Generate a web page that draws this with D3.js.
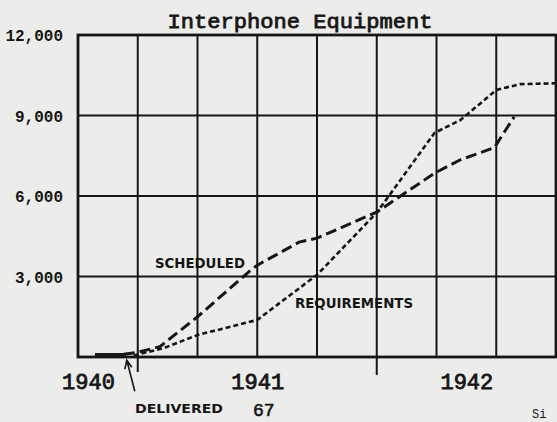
<!DOCTYPE html>
<html>
<head>
<meta charset="utf-8">
<script src="https://cdn.jsdelivr.net/npm/d3@7"></script>
<style>
  html, body { margin: 0; padding: 0; background: #ececea; }
  svg { display: block; }
</style>
</head>
<body>
<svg id="chart" width="557" height="422"></svg>
<script>
// Months counted from 1 October 1940; gridlines every quarter.
const quarterTicks = [0, 3, 6, 9, 12, 15, 18, 21, 24];
const valueTicks = [3000, 6000, 9000, 12000];
const valueTickLabels = ["3,000", "6,000", "9,000", "12,000"];
const yearLabels = ["1940", "1941", "1942"];
const yearLabelMonths = [0.5, 9, 19.5];
const yearBoundaryMonths = [3, 15];

// Cumulative units
const scheduledMonths = [2.3, 3, 4.1, 6, 8.7, 9, 11.1, 12, 15, 17.9, 19.2, 20.9, 21.9];
const scheduledValues = [100, 180, 380, 1500, 3250, 3420, 4280, 4430, 5400, 6850, 7350, 7800, 8950];

const requirementMonths = [2.8, 4.3, 6, 9, 9.8, 12, 15, 17.9, 19.2, 21, 22.2, 24];
const requirementValues = [60, 330, 820, 1380, 1830, 3060, 5380, 8350, 8830, 9950, 10170, 10200];

const deliveredMonths = [0.85, 2.4];
const deliveredValues = [67, 67];
const deliveredLabel = "67";

const svg = d3.select("#chart");
const ink = "#161616";
const mono = "'Liberation Mono', 'Courier New', monospace";
const stencil = "'DejaVu Sans Condensed', 'DejaVu Sans', sans-serif";

const x = d3.scaleLinear().domain([0, 24]).range([78, 556]);
const y = d3.scaleLinear().domain([0, 12000]).range([357, 35]);

// Grid
const grid = svg.append("g").attr("stroke", ink).attr("fill", "none");
grid.selectAll("line.v").data(quarterTicks.slice(1, -1)).join("line")
  .attr("x1", d => x(d)).attr("x2", d => x(d))
  .attr("y1", y(12000)).attr("y2", y(0))
  .attr("stroke-width", 2);
grid.selectAll("line.h").data(valueTicks.slice(0, -1)).join("line")
  .attr("x1", x(0)).attr("x2", x(24))
  .attr("y1", d => y(d)).attr("y2", d => y(d))
  .attr("stroke-width", 2);
grid.append("rect")
  .attr("x", x(0)).attr("y", y(12000))
  .attr("width", x(24) - x(0)).attr("height", y(0) - y(12000))
  .attr("stroke-width", 2.8);

// Year boundary ticks below the axis
grid.selectAll("line.yb").data(yearBoundaryMonths).join("line")
  .attr("x1", d => x(d)).attr("x2", d => x(d))
  .attr("y1", y(0)).attr("y2", (d, i) => y(0) + (i === 0 ? 15 : 18))
  .attr("stroke-width", 2);

// Value axis labels
const yAxis = d3.axisLeft(y).tickValues(valueTicks)
  .tickFormat((d, i) => valueTickLabels[i]).tickSize(0).tickPadding(15);
const yg = svg.append("g").attr("transform", `translate(${x(0)},0)`).call(yAxis);
yg.select(".domain").remove();
yg.selectAll("text")
  .attr("font-family", mono).attr("font-size", 16).attr("font-weight", "bold")
  .attr("fill", ink).attr("dy", "0.35em");

// Year labels
const xAxis = d3.axisBottom(x).tickValues(yearLabelMonths)
  .tickFormat((d, i) => yearLabels[i]).tickSize(0).tickPadding(16);
const xg = svg.append("g").attr("transform", `translate(0,${y(0)})`).call(xAxis);
xg.select(".domain").remove();
xg.selectAll("text")
  .attr("font-family", mono).attr("font-size", 22)
  .attr("fill", ink).attr("stroke", ink).attr("stroke-width", 0.8);

// Series lines
const line = d3.line().x(d => x(d[0])).y(d => y(d[1]));

svg.append("path")
  .datum(d3.zip(requirementMonths, requirementValues))
  .attr("d", line).attr("fill", "none")
  .attr("stroke", ink).attr("stroke-width", 2.6)
  .attr("stroke-dasharray", "5 3");

svg.append("path")
  .datum(d3.zip(scheduledMonths, scheduledValues))
  .attr("d", line).attr("fill", "none")
  .attr("stroke", ink).attr("stroke-width", 3)
  .attr("stroke-dasharray", "11 5");

svg.append("path")
  .datum(d3.zip(deliveredMonths, deliveredValues))
  .attr("d", line).attr("fill", "none")
  .attr("stroke", ink).attr("stroke-width", 4.4);

// Title
svg.append("text")
  .attr("x", 300).attr("y", 28).attr("text-anchor", "middle")
  .attr("font-family", mono).attr("font-size", 21)
  .attr("textLength", 265).attr("lengthAdjust", "spacingAndGlyphs")
  .attr("fill", ink).attr("stroke", ink).attr("stroke-width", 0.8)
  .text("Interphone Equipment");

// Series labels
function stencilLabel(tx, ty, len, size, str) {
  svg.append("text")
    .attr("x", tx).attr("y", ty)
    .attr("font-family", stencil).attr("font-weight", "bold").attr("font-size", size)
    .attr("textLength", len).attr("lengthAdjust", "spacingAndGlyphs")
    .attr("fill", ink).text(str);
}
stencilLabel(155, 268, 90, 14, "SCHEDULED");
stencilLabel(295, 308, 118, 14, "REQUIREMENTS");
stencilLabel(135, 413, 88, 13, "DELIVERED");

// Delivered count and pointer to its segment
svg.append("text")
  .attr("x", 253).attr("y", 416)
  .attr("font-family", mono).attr("font-size", 18)
  .attr("fill", ink).attr("stroke", ink).attr("stroke-width", 0.6)
  .text(deliveredLabel);

const tip = [x(deliveredMonths[1]) + 1, y(deliveredValues[1]) + 5];
svg.append("path")
  .attr("d", `M${tip[0] + 8},${tip[1] + 31} L${tip[0]},${tip[1]}
              M${tip[0] - 2},${tip[1] + 9} L${tip[0]},${tip[1]} L${tip[0] + 5},${tip[1] + 7}`)
  .attr("fill", "none").attr("stroke", ink).attr("stroke-width", 1.6);

// Fragment of page text at the lower edge
svg.append("text")
  .attr("x", 532).attr("y", 418)
  .attr("font-family", mono).attr("font-size", 12)
  .attr("fill", ink).text("Si");
</script>
</body>
</html>
